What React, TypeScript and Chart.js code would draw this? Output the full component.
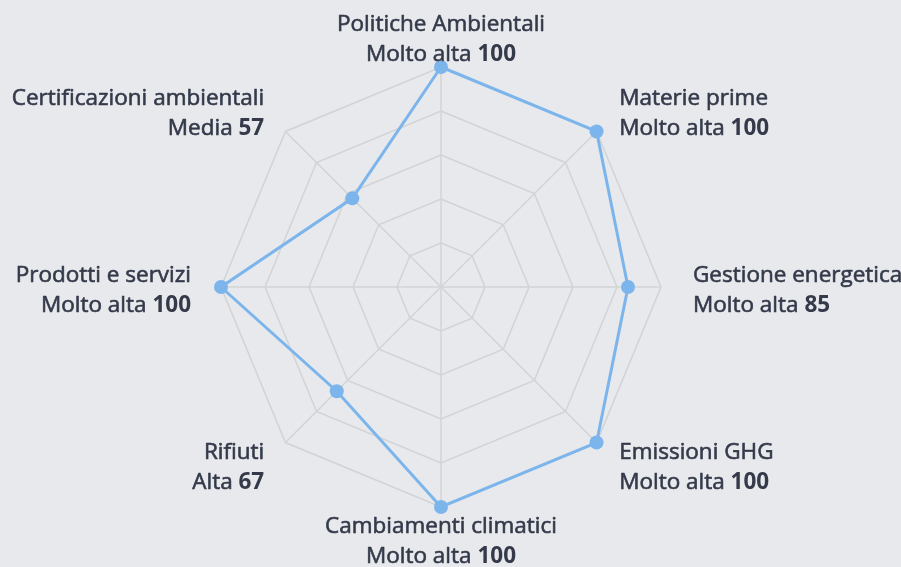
import React, { useEffect, useRef } from "react";
import { Chart, registerables } from "chart.js";

Chart.register(...registerables);

const categories = [
  "Politiche Ambientali",
  "Materie prime",
  "Gestione energetica",
  "Emissioni GHG",
  "Cambiamenti climatici",
  "Rifiuti",
  "Prodotti e servizi",
  "Certificazioni ambientali",
];
const levels = ["Molto alta", "Molto alta", "Molto alta", "Molto alta", "Molto alta", "Alta", "Molto alta", "Media"];
const values = [100, 100, 85, 100, 100, 67, 100, 57];

const TEXT_COLOR = "#343a4a";
const FONT_FAMILY = "'Open Sans', 'Noto Sans', sans-serif";
const FONT_SIZE = 22.5;

function drawText(ctx: any, text: string, x: number, y: number, bold: boolean) {
  ctx.font = `${bold ? 700 : 400} ${FONT_SIZE}px ${FONT_FAMILY}`;
  ctx.fillText(text, x, y);
  if (!bold) {
    ctx.lineWidth = 0.6;
    ctx.strokeStyle = TEXT_COLOR;
    ctx.strokeText(text, x, y);
  }
}

const labelPlugin = {
  id: "customLabels",
  afterDraw(chart: any) {
    const scale = chart.scales.r;
    const ctx = chart.ctx;
    const n = categories.length;
    ctx.save();
    ctx.textBaseline = "alphabetic";
    ctx.fillStyle = TEXT_COLOR;
    ctx.lineJoin = "round";
    for (let i = 0; i < n; i++) {
      const p = scale.getPointPosition(i, scale.drawingArea);
      const theta = (i / n) * Math.PI * 2;
      const ux = Math.sin(theta);
      const uy = -Math.cos(theta);
      const x = p.x + (ux > 0 ? 32 : 30) * ux;
      const b1 = p.y - 5 + 31 * uy;
      const b2 = b1 + 30;
      const align = ux > 0.1 ? "left" : ux < -0.1 ? "right" : "center";
      ctx.textAlign = align;
      drawText(ctx, categories[i], x, b1, false);
      const part1 = levels[i] + " ";
      const part2 = String(values[i]);
      ctx.font = `400 ${FONT_SIZE}px ${FONT_FAMILY}`;
      const w1 = ctx.measureText(part1).width;
      ctx.font = `700 ${FONT_SIZE}px ${FONT_FAMILY}`;
      const w2 = ctx.measureText(part2).width;
      const total = w1 + w2;
      let start = x;
      if (align === "center") start = x - total / 2;
      else if (align === "right") start = x - total;
      ctx.textAlign = "left";
      drawText(ctx, part1, start, b2, false);
      drawText(ctx, part2, start + w1, b2, true);
    }
    ctx.restore();
  },
};

export default function App() {
  const ref = useRef<HTMLCanvasElement | null>(null);
  useEffect(() => {
    if (!ref.current) return;
    const chart = new Chart(ref.current, {
      type: "radar",
      data: {
        labels: categories,
        datasets: [
          {
            data: values,
            borderColor: "#7cb5ec",
            backgroundColor: "#7cb5ec",
            borderWidth: 3,
            fill: false,
            pointRadius: 7,
            pointHoverRadius: 7,
            pointBackgroundColor: "#7cb5ec",
            pointBorderWidth: 0,
            tension: 0,
          },
        ],
      },
      options: {
        animation: false,
        responsive: false,
        maintainAspectRatio: false,
        layout: { padding: { left: 221, right: 239, top: 67, bottom: 59 } },
        plugins: { legend: { display: false }, tooltip: { enabled: false } },
        scales: {
          r: {
            min: 0,
            max: 100,
            ticks: { display: false, stepSize: 20 },
            pointLabels: { display: false },
            grid: { color: "#d2d3d5", lineWidth: 1.5 },
            angleLines: { color: "#d2d3d5", lineWidth: 1.5 },
          },
        },
      },
      plugins: [labelPlugin],
    });
    return () => chart.destroy();
  }, []);
  return (
    <div style={{ position: "fixed", left: 0, top: 0, width: 901, height: 567, background: "#e8e9ec" }}>
      <canvas ref={ref} width={901} height={567} style={{ display: "block", width: 901, height: 567 }} />
    </div>
  );
}
